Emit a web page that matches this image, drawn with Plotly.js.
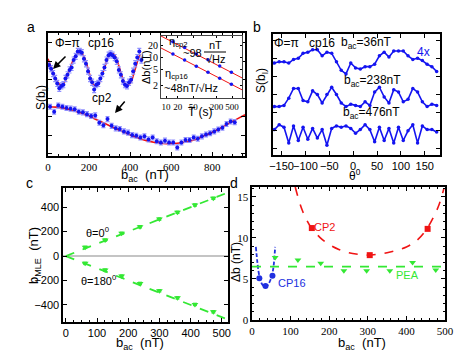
<!DOCTYPE html>
<html>
<head>
<meta charset="utf-8">
<script src="https://cdn.plot.ly/plotly-3.0.1.min.js"></script>
<style>
  html, body { margin: 0; padding: 0; background: #fff; }
  #chart { width: 470px; height: 353px; }
</style>
</head>
<body>
<div id="chart"></div>
<script>
// ---- panel a: S(b_I) vs b_ac ----
const cp16B = [5,15,25,35,45,55,65,75,85,95,105,115,125,135,145,155,165,175,185,195,205,215,225,235,245,255,265,275,285,295,305,315,325,335,345,355,365,375,385,395,405,415,425,435,445,455];
const cp16S = [0.74,0.71,0.67,0.63,0.59,0.55,0.57,0.58,0.63,0.66,0.70,0.72,0.78,0.81,0.85,0.85,0.84,0.79,0.75,0.69,0.63,0.60,0.54,0.58,0.59,0.63,0.67,0.72,0.78,0.82,0.83,0.82,0.80,0.77,0.70,0.66,0.61,0.58,0.57,0.60,0.62,0.69,0.75,0.80,0.85,0.78];
const cp16FitB = [0,20,40,60,80,100,120,140,160,180,200,220,240,260,280,300,320,340,360,380,400,420,440,450];
const cp16FitS = [0.79,0.70,0.62,0.58,0.60,0.68,0.77,0.83,0.84,0.79,0.68,0.58,0.57,0.64,0.74,0.82,0.83,0.76,0.65,0.58,0.59,0.68,0.79,0.83];

const cp2B = [10,30,50,70,90,110,130,150,170,190,210,230,250,270,290,310,330,350,370,390,410,430,450,470,490,510,530,550,570,590,610,630,650,670,690,710,730,750,770,790,810,830,850,870,890,910];
const cp2S = [0.40,0.36,0.41,0.40,0.39,0.385,0.38,0.36,0.355,0.34,0.325,0.33,0.27,0.25,0.30,0.245,0.225,0.22,0.20,0.19,0.17,0.165,0.15,0.16,0.135,0.15,0.12,0.11,0.125,0.11,0.11,0.07,0.11,0.13,0.13,0.15,0.14,0.16,0.175,0.185,0.20,0.215,0.23,0.26,0.28,0.275];
const cp2FitB = [0,40,80,120,160,200,240,280,320,360,400,440,480,520,560,600,640,680,720,760,800,840,880,920,960];
const cp2FitS = [0.400,0.397,0.387,0.370,0.349,0.323,0.293,0.262,0.230,0.199,0.170,0.145,0.125,0.110,0.102,0.100,0.106,0.117,0.134,0.162,0.193,0.228,0.264,0.300,0.335];

// inset: sensitivity vs averaging time
const insetT = [15,30,60,120,240,480];
const insetCp2 = [25,18,12.5,9,6.3,4.4];
const insetCp16 = [12.5,8.8,6.2,4.4,3.1,2.2];
const insetFitT = [7,900];
const insetFitCp2 = [35.9,3.17];
const insetFitCp16 = [18.1,1.6];

// ---- panel b: S(b_I) vs theta ----
const thetaDeg = [-165,-155,-145,-135,-125,-115,-105,-95,-85,-75,-65,-55,-45,-35,-25,-15,-5,5,15,25,35,45,55,65,75,85,95,105,115,125,135,145,155,165,175];
const s36 = [0.76,0.77,0.77,0.76,0.79,0.80,0.84,0.85,0.87,0.87,0.82,0.85,0.84,0.77,0.70,0.67,0.76,0.72,0.71,0.73,0.73,0.75,0.82,0.85,0.81,0.86,0.86,0.86,0.82,0.79,0.80,0.78,0.75,0.73,0.69];
const s238 = [0.40,0.40,0.41,0.47,0.55,0.55,0.45,0.44,0.53,0.50,0.43,0.50,0.56,0.50,0.43,0.40,0.42,0.41,0.40,0.44,0.41,0.52,0.56,0.48,0.43,0.54,0.52,0.44,0.46,0.55,0.52,0.44,0.40,0.42,0.41];
const s476 = [0.21,0.25,0.23,0.10,0.24,0.12,0.23,0.13,0.22,0.14,0.21,0.08,0.22,0.24,0.23,0.24,0.22,0.18,0.21,0.25,0.21,0.11,0.23,0.12,0.22,0.10,0.23,0.12,0.20,0.25,0.10,0.24,0.21,0.21,0.19];

// ---- panel c: b_MLE vs b_ac ----
const bacC = [62,126,179,238,300,358,414,473];
const mle0 = [71,131,186,240,303,358,418,473];
const mle180 = [-60,-115,-164,-224,-284,-342,-396,-456];
const lineB = [0,510];
const line0 = [0,510];
const line180 = [0,-510];

// ---- panel d: delta b vs b_ac ----
const cp2DB = [155,305,455];
const cp2D = [11.2,7.9,11.1];
const cp2DFitB = [112,130,150,175,200,225,250,275,300,325,350,375,400,425,450,470,485,497];
const cp2DFit = [16.2,13.4,11.5,10.1,9.2,8.6,8.2,8.0,7.9,8.0,8.2,8.5,8.9,9.6,10.9,12.5,14.1,16.0];
const cp16DB = [19,35,53];
const cp16D = [5.1,4.15,5.4];
const cp16DFitB = [10,14,18,22,27,33,38,43,48,52,56,60];
const cp16DFit = [8.9,7.0,5.6,4.8,4.3,4.05,4.1,4.4,4.9,5.5,6.6,8.9];
const peaB = [60,119,178,238,297,357,416,476];
const peaD = [7.6,7.3,6.9,6.0,6.0,6.0,7.0,6.1];
const peaLineB = [0,500];
const peaLine = [6.5,6.5];

const W = 470, H = 353;
const px = x => x / W;
const py = y => 1 - y / H;

const BLUE = '#1414f0';
const RED = '#f01414';
const GREEN = '#33e833';
const DBLUE = '#2030e0';
const SERIF = 'Liberation Serif';
const SANS = 'Liberation Sans';

const frame = {
  showline: true, linecolor: '#000', linewidth: 1.6, mirror: 'allticks',
  ticks: 'inside', ticklen: 4, tickwidth: 1, tickcolor: '#000', tickangle: 0,
  showgrid: false, zeroline: false, fixedrange: true, automargin: false
};

const traces = [
  // panel a
  { x: cp16FitB, y: cp16FitS, xaxis: 'x', yaxis: 'y', mode: 'lines', line: { color: RED, width: 1.6, shape: 'spline' } },
  { x: cp2FitB, y: cp2FitS, xaxis: 'x', yaxis: 'y', mode: 'lines', line: { color: RED, width: 1.6, shape: 'spline' } },
  { x: cp16B, y: cp16S, xaxis: 'x', yaxis: 'y', mode: 'markers', marker: { color: BLUE, size: 4 },
    error_y: { type: 'constant', value: 0.025, color: '#9090ff', thickness: 1.2, width: 2 } },
  { x: cp2B, y: cp2S, xaxis: 'x', yaxis: 'y', mode: 'markers', marker: { color: BLUE, size: 4 },
    error_y: { type: 'constant', value: 0.02, color: '#9090ff', thickness: 1.2, width: 2 } },
  // inset
  { x: insetFitT, y: insetFitCp2, xaxis: 'x2', yaxis: 'y2', mode: 'lines', line: { color: RED, width: 1 } },
  { x: insetFitT, y: insetFitCp16, xaxis: 'x2', yaxis: 'y2', mode: 'lines', line: { color: RED, width: 1 } },
  { x: insetT, y: insetCp2, xaxis: 'x2', yaxis: 'y2', mode: 'markers', marker: { color: BLUE, size: 3.5 } },
  { x: insetT, y: insetCp16, xaxis: 'x2', yaxis: 'y2', mode: 'markers', marker: { color: BLUE, size: 3.5 } },
  // panel b
  { x: thetaDeg, y: s36, xaxis: 'x3', yaxis: 'y3', mode: 'lines+markers', line: { color: BLUE, width: 1.6 }, marker: { color: BLUE, size: 3.5 } },
  { x: thetaDeg, y: s238, xaxis: 'x3', yaxis: 'y3', mode: 'lines+markers', line: { color: BLUE, width: 1.6 }, marker: { color: BLUE, size: 3.5 } },
  { x: thetaDeg, y: s476, xaxis: 'x3', yaxis: 'y3', mode: 'lines+markers', line: { color: BLUE, width: 1.6 }, marker: { color: BLUE, size: 3.5 } },
  // panel c
  { x: lineB, y: line0, xaxis: 'x4', yaxis: 'y4', mode: 'lines', line: { color: GREEN, width: 1.8, dash: 'dash' } },
  { x: lineB, y: line180, xaxis: 'x4', yaxis: 'y4', mode: 'lines', line: { color: GREEN, width: 1.8, dash: 'dash' } },
  { x: bacC, y: mle0, xaxis: 'x4', yaxis: 'y4', mode: 'markers', marker: { color: GREEN, size: 6, symbol: 'triangle-down' },
    error_y: { type: 'constant', value: 10, color: GREEN, thickness: 1, width: 2 } },
  { x: bacC, y: mle180, xaxis: 'x4', yaxis: 'y4', mode: 'markers', marker: { color: GREEN, size: 6, symbol: 'triangle-down' },
    error_y: { type: 'constant', value: 10, color: GREEN, thickness: 1, width: 2 } },
  // panel d
  { x: cp2DFitB, y: cp2DFit, xaxis: 'x5', yaxis: 'y5', mode: 'lines', line: { color: RED, width: 1.6, dash: 'dash', shape: 'spline' } },
  { x: cp2DB, y: cp2D, xaxis: 'x5', yaxis: 'y5', mode: 'markers', marker: { color: RED, size: 6, symbol: 'square' } },
  { x: cp16DFitB, y: cp16DFit, xaxis: 'x5', yaxis: 'y5', mode: 'lines', line: { color: DBLUE, width: 1.8, dash: '4px,2px', shape: 'spline' } },
  { x: cp16DB, y: cp16D, xaxis: 'x5', yaxis: 'y5', mode: 'markers', marker: { color: DBLUE, size: 6 } },
  { x: peaLineB, y: peaLine, xaxis: 'x5', yaxis: 'y5', mode: 'lines', line: { color: GREEN, width: 1.8, dash: 'dash' } },
  { x: peaB, y: peaD, xaxis: 'x5', yaxis: 'y5', mode: 'markers', marker: { color: GREEN, size: 6, symbol: 'triangle-down' } }
];

function txt(x, y, text, size, color, extra) {
  return Object.assign({
    xref: 'paper', yref: 'paper', x: px(x), y: py(y), text,
    showarrow: false, xanchor: 'center', yanchor: 'middle',
    font: { family: SANS, size: size || 12, color: color || '#000' }
  }, extra || {});
}

function arrow(x, y, ax, ay) {
  return {
    xref: 'paper', yref: 'paper', x: px(x), y: py(y), ax, ay, text: '',
    showarrow: true, arrowhead: 2, arrowsize: 1, arrowwidth: 1.5, arrowcolor: '#000'
  };
}

const annotations = [
  // panel a
  txt(31, 27, 'a', 14),
  txt(67, 43, 'Φ=π', 12),
  txt(101, 43, 'cp16', 12),
  txt(102, 98, 'cp2', 12),
  txt(42, 98, 'S(b<sub>I</sub>)', 12, '#000', { textangle: -90 }),
  txt(145, 176, 'b<sub>ac</sub>  (nT)', 13),
  arrow(53, 69, 14, -14),
  arrow(115, 113, 11, -13),
  // inset
  txt(178, 42, 'η<sub>cp2</sub>', 11),
  txt(192, 53, '~98', 11),
  txt(215, 45, 'nT', 11),
  txt(215, 59, '√Hz', 11),
  txt(176, 74, 'η<sub>cp16</sub>', 11),
  txt(191, 88, '~48nT/√Hz', 11),
  txt(146, 67, 'Δb(nT)', 11, '#000', { textangle: -90 }),
  txt(200, 112, 'T (s)', 12),
  // panel b
  txt(257, 27, 'b', 14),
  txt(286, 43, 'Φ=π', 12),
  txt(322, 43, 'cp16', 12),
  txt(366, 43, 'b<sub>ac</sub>=36nT', 12),
  txt(423, 52, '4x', 12, BLUE),
  txt(372, 81, 'b<sub>ac</sub>=238nT', 12),
  txt(371, 113, 'b<sub>ac</sub>=476nT', 12),
  txt(262, 81, 'S(b<sub>I</sub>)', 12, '#000', { textangle: -90 }),
  txt(355, 175, 'θ<sup>0</sup>', 12),
  // panel c
  txt(29, 183, 'c', 14),
  txt(97, 232, 'θ=0<sup>0</sup>', 11),
  txt(98, 280, 'θ=180<sup>0</sup>', 11),
  txt(34, 256, 'b<sub>MLE</sub>  (nT)', 13, '#000', { textangle: -90 }),
  txt(140, 343, 'b<sub>ac</sub>  (nT)', 13),
  // panel d
  txt(234, 183, 'd', 14),
  txt(324, 227, 'CP2', 11, RED),
  txt(292, 283, 'CP16', 11, DBLUE),
  txt(407, 275, 'PEA', 11, GREEN),
  txt(236, 262, 'Δb (nT)', 12, '#000', { textangle: -90 }),
  txt(362, 343, 'b<sub>ac</sub>  (nT)', 13)
];

const layout = {
  width: W, height: H,
  margin: { l: 0, r: 0, t: 0, b: 0 },
  paper_bgcolor: '#fff', plot_bgcolor: '#fff',
  showlegend: false,
  font: { family: SANS, size: 11, color: '#000' },
  xaxis: Object.assign({}, frame, {
    domain: [px(48), px(245)], range: [0, 960], anchor: 'y', side: 'bottom',
    tickvals: [0, 200, 400, 600, 800], tickfont: { family: SERIF, size: 11 },
    minor: { dtick: 50, ticklen: 2, ticks: 'inside', tickcolor: '#000' }
  }),
  yaxis: Object.assign({}, frame, {
    domain: [py(156), py(33)], range: [0, 1], anchor: 'x', side: 'left',
    dtick: 0.15, tick0: 0.02, showticklabels: false
  }),
  xaxis2: Object.assign({}, frame, {
    domain: [px(161), px(242)], type: 'log', range: [Math.log10(7.4), Math.log10(900)], anchor: 'y2', side: 'bottom',
    tickvals: [10, 20, 50, 200, 500], ticktext: ['10', '20', '50', '200', '500'],
    tickfont: { family: SERIF, size: 9 }, linewidth: 1, linecolor: '#444', ticklen: 2
  }),
  yaxis2: Object.assign({}, frame, {
    domain: [py(98), py(36)], type: 'log', range: [0, Math.log10(35)], anchor: 'x2', side: 'left',
    tickvals: [2, 5, 10, 20], ticktext: ['2', '5', '10', '20'],
    tickfont: { family: SERIF, size: 10 }, linewidth: 1, linecolor: '#444', ticklen: 2
  }),
  xaxis3: Object.assign({}, frame, {
    domain: [px(273), px(440)], range: [-168, 182], anchor: 'y3', side: 'bottom',
    tickvals: [-150, -100, -50, 0, 50, 100, 150], tickfont: { family: SANS, size: 11 }
  }),
  yaxis3: Object.assign({}, frame, {
    domain: [py(155), py(34)], range: [0, 1], anchor: 'x3', side: 'left',
    dtick: 0.15, tick0: 0.05, showticklabels: false
  }),
  xaxis4: Object.assign({}, frame, {
    domain: [px(63), px(228)], range: [-9, 520], anchor: 'y4', side: 'bottom',
    tickvals: [0, 100, 200, 300, 400, 500], tickfont: { family: SANS, size: 11 },
    minor: { dtick: 25, ticklen: 2, ticks: 'inside', tickcolor: '#000' }
  }),
  yaxis4: Object.assign({}, frame, {
    domain: [py(322), py(188)], range: [-540, 557], anchor: 'x4', side: 'left',
    tickvals: [-400, -200, 0, 200, 400], tickfont: { family: SANS, size: 11 },
    zeroline: true, zerolinecolor: '#c4c4c4', zerolinewidth: 1.5
  }),
  xaxis5: Object.assign({}, frame, {
    domain: [px(252), px(445)], range: [0, 500], anchor: 'y5', side: 'bottom',
    tickvals: [0, 100, 200, 300, 400, 500], tickfont: { family: SERIF, size: 11 },
    minor: { dtick: 20, ticklen: 2, ticks: 'inside', tickcolor: '#000' }
  }),
  yaxis5: Object.assign({}, frame, {
    domain: [py(320), py(187)], range: [0, 16.2], anchor: 'x5', side: 'left',
    tickvals: [0, 5, 10, 15], tickfont: { family: SERIF, size: 11 },
    minor: { dtick: 1, ticklen: 2, ticks: 'inside', tickcolor: '#000' }
  }),
  annotations,
  shapes: [
    // fraction bar in the inset label
    { type: 'line', xref: 'paper', yref: 'paper', x0: px(204), x1: px(226), y0: py(52), y1: py(52), line: { color: '#000', width: 1 } }
  ]
};

Plotly.newPlot('chart', traces, layout, { staticPlot: true, displayModeBar: false });
</script>
</body>
</html>
